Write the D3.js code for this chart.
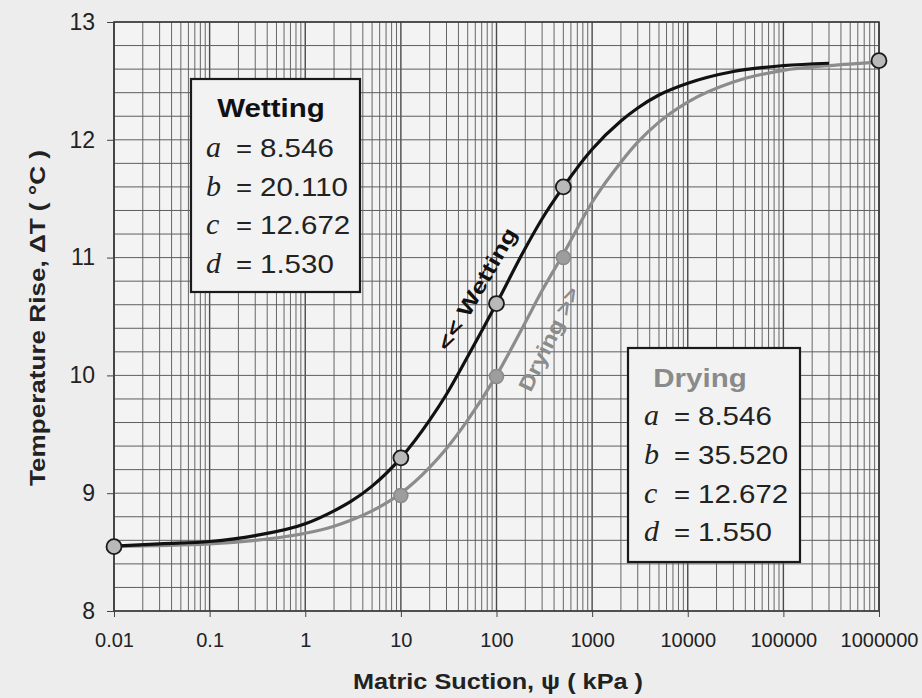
<!DOCTYPE html>
<html><head><meta charset="utf-8">
<script src="https://cdn.jsdelivr.net/npm/d3@7"></script>
<style>
body{margin:0;background:#eeeeee;}
svg{display:block;font-family:"Liberation Sans",Arial,sans-serif;}
</style>
</head><body>
<svg id="chart" width="922" height="698"></svg>
<script>
// ---------- data ----------
const xTickValues = [0.01, 0.1, 1, 10, 100, 1000, 10000, 100000, 1000000];
const xTickLabels = ["0.01", "0.1", "1", "10", "100", "1000", "10000", "100000", "1000000"];
const yTickValues = [8, 9, 10, 11, 12, 13];
const yTickLabels = ["8", "9", "10", "11", "12", "13"];

const wettingSuction = [0.01, 0.03, 0.1, 0.3, 1, 2, 3, 5, 10, 20, 30, 50, 100, 200, 300, 500, 1000, 2000, 3000, 5000, 10000, 30000, 100000, 300000];
const wettingRise    = [8.55, 8.57, 8.59, 8.64, 8.74, 8.85, 8.93, 9.06, 9.30, 9.62, 9.84, 10.16, 10.61, 11.08, 11.33, 11.60, 11.92, 12.16, 12.27, 12.38, 12.48, 12.58, 12.63, 12.65];

const dryingSuction = [0.01, 0.1, 0.3, 1, 2, 3, 5, 10, 20, 30, 50, 100, 200, 300, 500, 1000, 2000, 3000, 5000, 10000, 30000, 100000, 300000, 1000000];
const dryingRise    = [8.55, 8.57, 8.60, 8.66, 8.72, 8.77, 8.85, 9.00, 9.22, 9.38, 9.62, 10.00, 10.45, 10.72, 11.03, 11.47, 11.81, 11.98, 12.15, 12.32, 12.49, 12.59, 12.63, 12.66];

const wettingPointSuction = [0.01, 10, 100, 500, 1000000];
const wettingPointRise    = [8.546, 9.30, 10.61, 11.60, 12.672];
const dryingPointSuction  = [10, 100, 500];
const dryingPointRise     = [8.98, 9.99, 11.00];

const paramNames    = ["a", "b", "c", "d"];
const wettingParams = ["8.546", "20.110", "12.672", "1.530"];
const dryingParams  = ["8.546", "35.520", "12.672", "1.550"];

// ---------- layout ----------
const W = 922, H = 698;
const m = {left: 114, right: 43, top: 22, bottom: 87};
const svg = d3.select("#chart");
svg.append("rect").attr("width", W).attr("height", H).attr("fill", "#ededed");

const x = d3.scaleLog().domain([0.01, 1000000]).range([m.left, W - m.right]);
const y = d3.scaleLinear().domain([8, 13]).range([H - m.bottom, m.top]);

// plot background
svg.append("rect")
  .attr("x", x(0.01)).attr("y", y(13))
  .attr("width", x(1000000) - x(0.01)).attr("height", y(8) - y(13))
  .attr("fill", "#f3f3f3");

// grid
const grid = svg.append("g");
const isDecade = d => Math.abs(Math.log10(d) - Math.round(Math.log10(d))) < 1e-9;
const vLines = [];
for (let e = -2; e <= 5; e++) for (let k = 1; k <= 9; k++) vLines.push(k * Math.pow(10, e));
vLines.push(1000000);
grid.selectAll("line.v").data(vLines).join("line")
  .attr("x1", d => x(d)).attr("x2", d => x(d))
  .attr("y1", y(8)).attr("y2", y(13))
  .attr("stroke", d => isDecade(d) ? "#4a4a4a" : "#666")
  .attr("stroke-width", d => isDecade(d) ? 1.4 : 1);
const hLines = d3.range(0, 26).map(i => 8 + i * 0.2);
grid.selectAll("line.h").data(hLines).join("line")
  .attr("x1", x(0.01)).attr("x2", x(1000000))
  .attr("y1", d => y(d)).attr("y2", d => y(d))
  .attr("stroke", "#5e5e5e").attr("stroke-width", 1);

// frame
svg.append("rect")
  .attr("x", x(0.01)).attr("y", y(13))
  .attr("width", x(1000000) - x(0.01)).attr("height", y(8) - y(13))
  .attr("fill", "none").attr("stroke", "#3a3a3a").attr("stroke-width", 1.6);

// axes
const xAxis = svg.append("g").attr("transform", `translate(0,${y(8)})`)
  .call(d3.axisBottom(x).tickValues(xTickValues).tickFormat((d, i) => xTickLabels[i]).tickSize(6).tickPadding(16));
xAxis.select(".domain").remove();
xAxis.selectAll("line").attr("stroke", "#444");
xAxis.selectAll("text").attr("font-size", 20).attr("fill", "#222").attr("font-family", "Liberation Sans, Arial");

const yAxis = svg.append("g").attr("transform", `translate(${x(0.01)},0)`)
  .call(d3.axisLeft(y).tickValues(yTickValues).tickFormat((d, i) => yTickLabels[i]).tickSize(7).tickPadding(12));
yAxis.select(".domain").remove();
yAxis.selectAll("line").attr("stroke", "#444");
yAxis.selectAll("text").attr("font-size", 23).attr("fill", "#222").attr("font-family", "Liberation Sans, Arial");

// axis titles
svg.append("text")
  .attr("x", 498).attr("y", 689).attr("text-anchor", "middle")
  .attr("font-size", 22).attr("font-weight", "bold").attr("fill", "#222")
  .attr("textLength", 290).attr("lengthAdjust", "spacingAndGlyphs")
  .text("Matric Suction, ψ ( kPa )");
svg.append("text")
  .attr("transform", "translate(45,318) rotate(-90)")
  .attr("text-anchor", "middle")
  .attr("font-size", 22).attr("font-weight", "bold").attr("fill", "#222")
  .attr("textLength", 336).attr("lengthAdjust", "spacingAndGlyphs")
  .text("Temperature Rise, ΔT ( °C )");

// curves
const line = d3.line().x(d => x(d[0])).y(d => y(d[1])).curve(d3.curveMonotoneX);
svg.append("path")
  .datum(dryingSuction.map((s, i) => [s, dryingRise[i]]))
  .attr("d", line).attr("fill", "none").attr("stroke", "#8c8c8c").attr("stroke-width", 3.2);
svg.append("path")
  .datum(wettingSuction.map((s, i) => [s, wettingRise[i]]))
  .attr("d", line).attr("fill", "none").attr("stroke", "#111").attr("stroke-width", 3.2);

// points
svg.selectAll("circle.dry").data(dryingPointSuction.map((s, i) => [s, dryingPointRise[i]])).join("circle")
  .attr("cx", d => x(d[0])).attr("cy", d => y(d[1])).attr("r", 7)
  .attr("fill", "#9d9d9d").attr("stroke", "#8a8a8a").attr("stroke-width", 1.5);
svg.selectAll("circle.wet").data(wettingPointSuction.map((s, i) => [s, wettingPointRise[i]])).join("circle")
  .attr("cx", d => x(d[0])).attr("cy", d => y(d[1])).attr("r", 7.5)
  .attr("fill", "#b9b9b9").attr("stroke", "#1a1a1a").attr("stroke-width", 1.8);

// curve annotations
svg.append("text")
  .attr("transform", "translate(477,289) rotate(-60)")
  .attr("text-anchor", "middle").attr("dy", "0.35em")
  .attr("font-size", 21).attr("font-weight", "bold").attr("fill", "#111")
  .attr("textLength", 138).attr("lengthAdjust", "spacingAndGlyphs")
  .text("<< Wetting");
svg.append("text")
  .attr("transform", "translate(549,339) rotate(-64)")
  .attr("text-anchor", "middle").attr("dy", "0.35em")
  .attr("font-size", 21).attr("font-weight", "bold").attr("fill", "#8c8c8c")
  .attr("textLength", 113).attr("lengthAdjust", "spacingAndGlyphs")
  .text("Drying >>");

// parameter boxes
function paramBox(bx, by, bw, bh, title, titleColor, titleCx, titleY, xL, xEq, xV, y0, dy, vals) {
  const g = svg.append("g");
  g.append("rect").attr("x", bx).attr("y", by).attr("width", bw).attr("height", bh)
    .attr("fill", "#f2f2f2").attr("stroke", "#1a1a1a").attr("stroke-width", 2.2);
  g.append("text").attr("transform", `translate(${titleCx},${titleY}) scale(1.18,1)`)
    .attr("text-anchor", "middle").attr("font-size", 25).attr("font-weight", "bold")
    .attr("fill", titleColor).text(title);
  paramNames.forEach((p, i) => {
    const yy = y0 + i * dy;
    g.append("text").attr("x", xL).attr("y", yy)
      .attr("font-family", "Liberation Serif, Times New Roman, serif").attr("font-style", "italic")
      .attr("font-size", 30).attr("fill", "#222").text(p);
    g.append("text").attr("transform", `translate(${xEq},${yy}) scale(1.1,1)`)
      .attr("font-size", 25).attr("fill", "#222").text("=");
    g.append("text").attr("transform", `translate(${xV},${yy}) scale(1.18,1)`)
      .attr("font-size", 25).attr("fill", "#222").text(vals[i]);
  });
}
paramBox(191, 79, 169, 213, "Wetting", "#111", 271, 117, 206, 236, 260, 157, 38.5, wettingParams);
paramBox(628, 348, 172, 214, "Drying", "#8a8a8a", 700, 387, 644, 674, 698, 425, 38.8, dryingParams);
</script>
</body></html>
